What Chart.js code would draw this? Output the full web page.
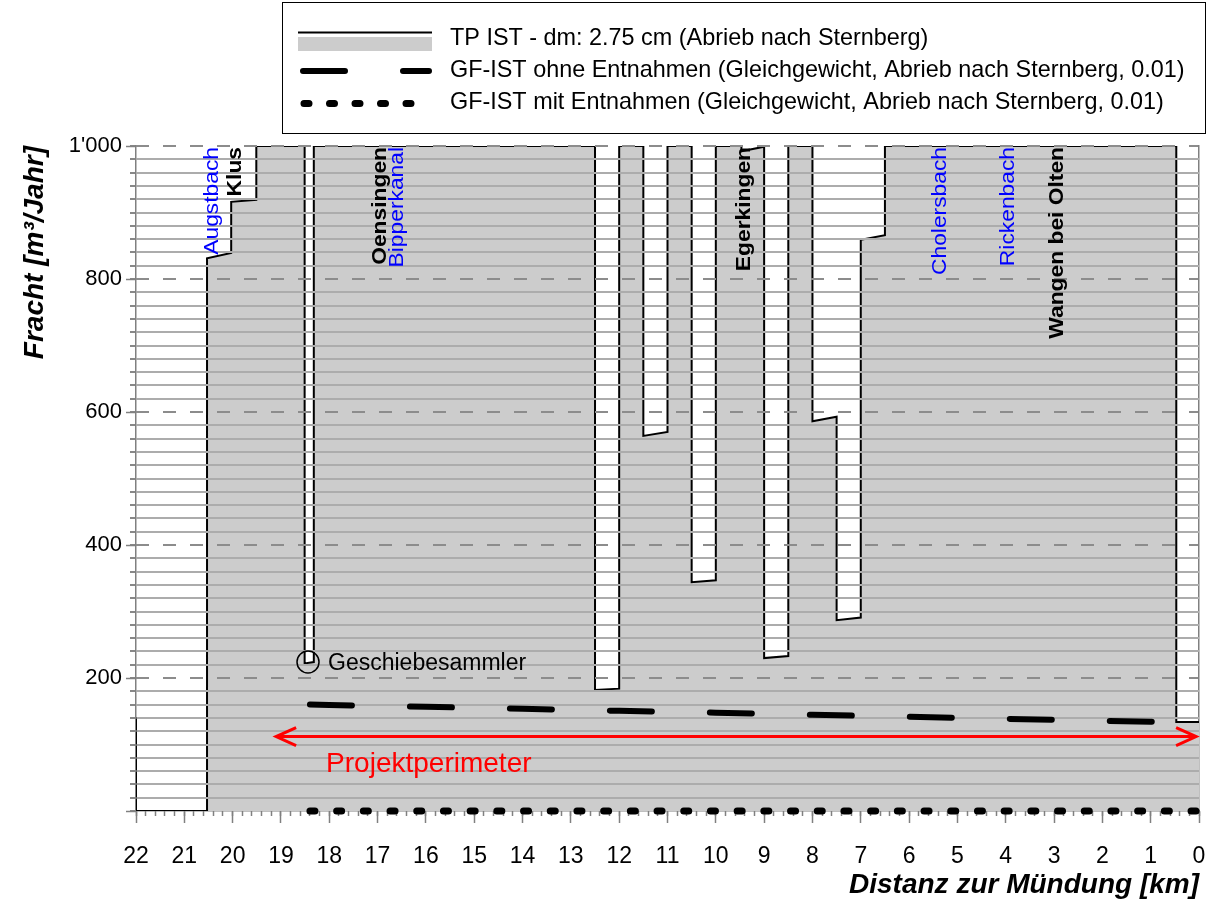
<!DOCTYPE html>
<html>
<head>
<meta charset="utf-8">
<script src="https://cdn.jsdelivr.net/npm/chart.js@4/dist/chart.umd.min.js"></script>
<style>
  html, body { margin: 0; padding: 0; background: #ffffff; }
  #c { display: block; }
</style>
</head>
<body>
<canvas id="c" width="1214" height="900"></canvas>
<script>
// Bedload profile along the river, distance measured from the mouth [km]
const tpKm   = [22, 22, 20.53, 20.53, 20.03, 20.03, 19.51, 19.51, 18.51, 18.51, 18.32, 18.32,
                12.5, 12.5, 12.0, 12.0, 11.5, 11.5, 11.0, 11.0, 10.5, 10.5, 10.0, 10.0,
                9.47, 9.47, 9.0, 9.0, 8.5, 8.5, 8.0, 8.0, 7.5, 7.5, 7.0, 7.0, 6.5, 6.5,
                0.47, 0.47, 0];
const tpLoad = [141, 0, 0, 831, 839, 916, 919, 1000, 1000, 222, 224, 1000,
                1000, 182, 184, 1000, 1000, 564, 570, 1000, 1000, 344, 347, 1000,
                1000, 992, 999, 230, 233, 1000, 1000, 586, 593, 287, 291, 859, 866, 1000,
                1000, 134, 134];

// Equilibrium transport capacity
const gfKm     = [18.4, 18, 17, 16, 15, 14, 13, 12, 11, 10, 9, 8, 7, 6, 5, 4, 3, 2, 1, 0];
const gfOhne   = [160, 159.4, 157.8, 156.6, 155.2, 153.6, 152.2, 150.6, 149.2, 147.8,
                  146.2, 144.6, 143.2, 141.6, 140.0, 138.6, 137.2, 135.6, 134.2, 133.2];
const gfMitKm  = [18.4, 0];
const gfMit    = [0, 0];

// Project reach and sediment trap
const perimeterKm   = [19.1, 0.06];
const perimeterLoad = [112, 112];
const trapKm   = [18.44];
const trapLoad = [224];

// Places along the river
const placeNames = ['Augstbach', 'Klus', 'Oensingen', 'Bipperkanal', 'Egerkingen', 'Cholersbach', 'Rickenbach', 'Wangen bei Olten'];
const placeKm    = [20.43, 19.97, 16.96, 16.61, 9.42, 5.38, 3.97, 2.95];
const placeTown  = [false, true, true, false, true, false, false, true];

const yTickValues = [200, 400, 600, 800, 1000];

const FONT = "'Liberation Sans', Arial, Helvetica, sans-serif";
Chart.defaults.font.family = FONT;

const pts = (xs, ys) => xs.map((x, i) => ({ x: x, y: ys[i] }));
const fmtThousands = v => String(v).replace(/\B(?=(\d{3})+(?!\d))/g, "'");

const overlay = {
  id: 'overlay',
  afterDatasetDraw(chart, args) {
    // horizontal grid lies over the TP band, under the other series
    if (args.index !== 0) return;
    chart.scales.y.drawGrid(chart.chartArea);
    chart.scales.yDash.drawGrid(chart.chartArea);
  },
  afterDraw(chart) {
    const ctx = chart.ctx;
    const xs = chart.scales.x;
    const area = chart.chartArea;
    const ds = chart.data.datasets;

    // arrowheads of the project reach
    const arr = chart.getDatasetMeta(3).data;
    const a0 = arr[0], a1 = arr[arr.length - 1];
    const dir = Math.sign(a1.x - a0.x) || 1;
    ctx.save();
    ctx.strokeStyle = ds[3].borderColor;
    ctx.lineWidth = 3;
    ctx.lineJoin = 'miter';
    ctx.beginPath();
    ctx.moveTo(a0.x + dir * 20, a0.y - 9); ctx.lineTo(a0.x, a0.y); ctx.lineTo(a0.x + dir * 20, a0.y + 9);
    ctx.moveTo(a1.x - dir * 20, a1.y - 9); ctx.lineTo(a1.x, a1.y); ctx.lineTo(a1.x - dir * 20, a1.y + 9);
    ctx.stroke();

    ctx.fillStyle = ds[3].borderColor;
    ctx.font = '28px ' + FONT;
    ctx.textAlign = 'left';
    ctx.textBaseline = 'alphabetic';
    ctx.fillText('Projektperimeter', Math.min(a0.x, a1.x) + 50, a0.y + 35);
    ctx.restore();

    // sediment trap label
    const trap = chart.getDatasetMeta(4).data[0];
    ctx.save();
    ctx.fillStyle = '#000';
    ctx.font = '23px ' + FONT;
    ctx.textAlign = 'left';
    ctx.textBaseline = 'alphabetic';
    ctx.fillText('Geschiebesammler', trap.x + 20, trap.y + 8);
    ctx.restore();

    // place names, written upwards and ending at the top of the plot
    placeNames.forEach((name, i) => {
      const px = xs.getPixelForValue(placeKm[i]);
      ctx.save();
      ctx.translate(px, area.top + 1);
      ctx.rotate(-Math.PI / 2);
      ctx.scale(1.14, 1);
      ctx.font = (placeTown[i] ? 'bold ' : '') + '20px ' + FONT;
      ctx.fillStyle = placeTown[i] ? '#000000' : '#0000ff';
      ctx.textAlign = 'right';
      ctx.textBaseline = 'middle';
      ctx.fillText(name, 0, 1);
      ctx.restore();
    });

    // axis titles
    ctx.save();
    ctx.fillStyle = '#000';
    ctx.font = 'italic bold 28px ' + FONT;
    ctx.textAlign = 'right';
    ctx.textBaseline = 'alphabetic';
    ctx.fillText('Distanz zur Mündung [km]', area.right, 893);
    ctx.translate(35, area.top);
    ctx.rotate(-Math.PI / 2);
    ctx.textBaseline = 'middle';
    ctx.fillText('Fracht [m³/Jahr]', 0, 0);
    ctx.restore();

    // legend
    ctx.save();
    ctx.strokeStyle = '#000';
    ctx.lineWidth = 1;
    ctx.strokeRect(282.5, 2.5, 923, 131);
    const sx0 = 298, sx1 = 432, tx = 450;
    // row 1: band with outline
    ctx.fillStyle = ds[0].backgroundColor;
    ctx.fillRect(sx0, 37, sx1 - sx0, 14);
    ctx.strokeStyle = ds[0].borderColor;
    ctx.lineWidth = 2;
    ctx.beginPath(); ctx.moveTo(sx0, 32.5); ctx.lineTo(sx1, 32.5); ctx.stroke();
    // row 2: dashed
    ctx.lineCap = 'round';
    ctx.strokeStyle = ds[1].borderColor;
    ctx.lineWidth = ds[1].borderWidth;
    ctx.setLineDash(ds[1].borderDash);
    ctx.beginPath(); ctx.moveTo(sx0 + 5, 71); ctx.lineTo(sx1 - 3, 71); ctx.stroke();
    // row 3: dotted
    ctx.strokeStyle = ds[2].borderColor;
    ctx.lineWidth = ds[2].borderWidth;
    ctx.setLineDash([5, 20.5]);
    ctx.beginPath(); ctx.moveTo(sx0 + 6, 103.5); ctx.lineTo(sx1 - 16, 103.5); ctx.stroke();
    ctx.setLineDash([]);
    ctx.fillStyle = '#000';
    ctx.font = '23.4px ' + FONT;
    ctx.textAlign = 'left';
    ctx.textBaseline = 'alphabetic';
    ctx.fillText(ds[0].label, tx, 45);
    ctx.fillText(ds[1].label, tx, 77);
    ctx.fillText(ds[2].label, tx, 108.5);
    ctx.restore();
  }
};

new Chart(document.getElementById('c'), {
  type: 'line',
  data: {
    datasets: [
      {
        label: 'TP IST - dm: 2.75 cm (Abrieb nach Sternberg)',
        data: pts(tpKm, tpLoad),
        borderColor: '#000000',
        borderWidth: 2,
        backgroundColor: '#cccccc',
        fill: 'origin',
        order: 10
      },
      {
        label: 'GF-IST ohne Entnahmen (Gleichgewicht, Abrieb nach Sternberg, 0.01)',
        data: pts(gfKm, gfOhne),
        borderColor: '#000000',
        borderWidth: 6,
        borderDash: [42, 58],
        borderCapStyle: 'round',
        fill: false,
        order: 2
      },
      {
        label: 'GF-IST mit Entnahmen (Gleichgewicht, Abrieb nach Sternberg, 0.01)',
        data: pts(gfMitKm, gfMit),
        borderColor: '#000000',
        borderWidth: 7,
        borderDash: [5, 21.7],
        borderCapStyle: 'round',
        fill: false,
        clip: false,
        order: 1
      },
      {
        label: 'Projektperimeter',
        data: pts(perimeterKm, perimeterLoad),
        borderColor: '#ff0000',
        borderWidth: 3,
        fill: false,
        order: 3
      },
      {
        label: 'Geschiebesammler',
        data: pts(trapKm, trapLoad),
        showLine: false,
        pointRadius: 11,
        pointStyle: 'circle',
        pointBorderColor: '#000000',
        pointBorderWidth: 1.5,
        pointBackgroundColor: 'rgba(0,0,0,0)',
        order: 0
      }
    ]
  },
  options: {
    responsive: false,
    animation: false,
    devicePixelRatio: 1,
    events: [],
    layout: { padding: { top: 146, left: 0, right: 0, bottom: 0 } },
    elements: { point: { radius: 0 }, line: { tension: 0 } },
    plugins: { legend: { display: false }, tooltip: { enabled: false }, title: { display: false } },
    scales: {
      x: {
        type: 'linear', position: 'bottom', reverse: true, min: 0, max: 22,
        ticks: { stepSize: 1, autoSkip: false, maxRotation: 0, color: '#000000', font: { size: 23 }, padding: 20 },
        grid: { drawOnChartArea: false, tickLength: 12, tickColor: '#808080', tickWidth: 1.5 },
        border: { color: '#808080', width: 1.5 },
        afterFit: s => { s.height = 89; s.paddingLeft = 0; s.paddingRight = 0; }
      },
      xMinor: {
        axis: 'x', type: 'linear', position: { y: 0 }, reverse: true, min: 0, max: 22,
        ticks: { stepSize: 0.2, display: false },
        grid: { drawOnChartArea: false, tickLength: 5, tickColor: '#808080', tickWidth: 1.5 },
        border: { display: false }
      },
      y: {
        type: 'linear', position: 'left', min: 0, max: 1000,
        ticks: {
          stepSize: 20, autoSkip: false, color: '#000000', font: { size: 22 }, padding: 8,
          callback: v => yTickValues.includes(v) ? fmtThousands(v) : ''
        },
        grid: {
          color: c => (c.tick && c.tick.value % 200 === 0) ? 'rgba(0,0,0,0)' : '#acacac',
          lineWidth: 2, tickLength: 6, tickColor: '#808080', tickWidth: 1.5
        },
        border: { color: '#808080', width: 1.5 },
        afterFit: s => { s.width = 136; }
      },
      yDash: {
        axis: 'y', type: 'linear', position: 'right', min: 0, max: 1000,
        ticks: { stepSize: 200, display: false },
        grid: {
          color: c => (c.tick && c.tick.value === 0) ? 'rgba(0,0,0,0)' : '#8c8c8c',
          lineWidth: 2, drawTicks: false
        },
        border: { color: '#808080', width: 1.5, dash: [13, 14] },
        afterFit: s => { s.width = 15; }
      },
      yMajor: {
        axis: 'y', type: 'linear', position: { x: 22 }, min: 0, max: 1000,
        ticks: { stepSize: 200, display: false },
        grid: { drawOnChartArea: false, tickLength: 10, tickColor: '#808080', tickWidth: 1.5 },
        border: { display: false }
      }
    }
  },
  plugins: [overlay]
});
</script>
</body>
</html>
